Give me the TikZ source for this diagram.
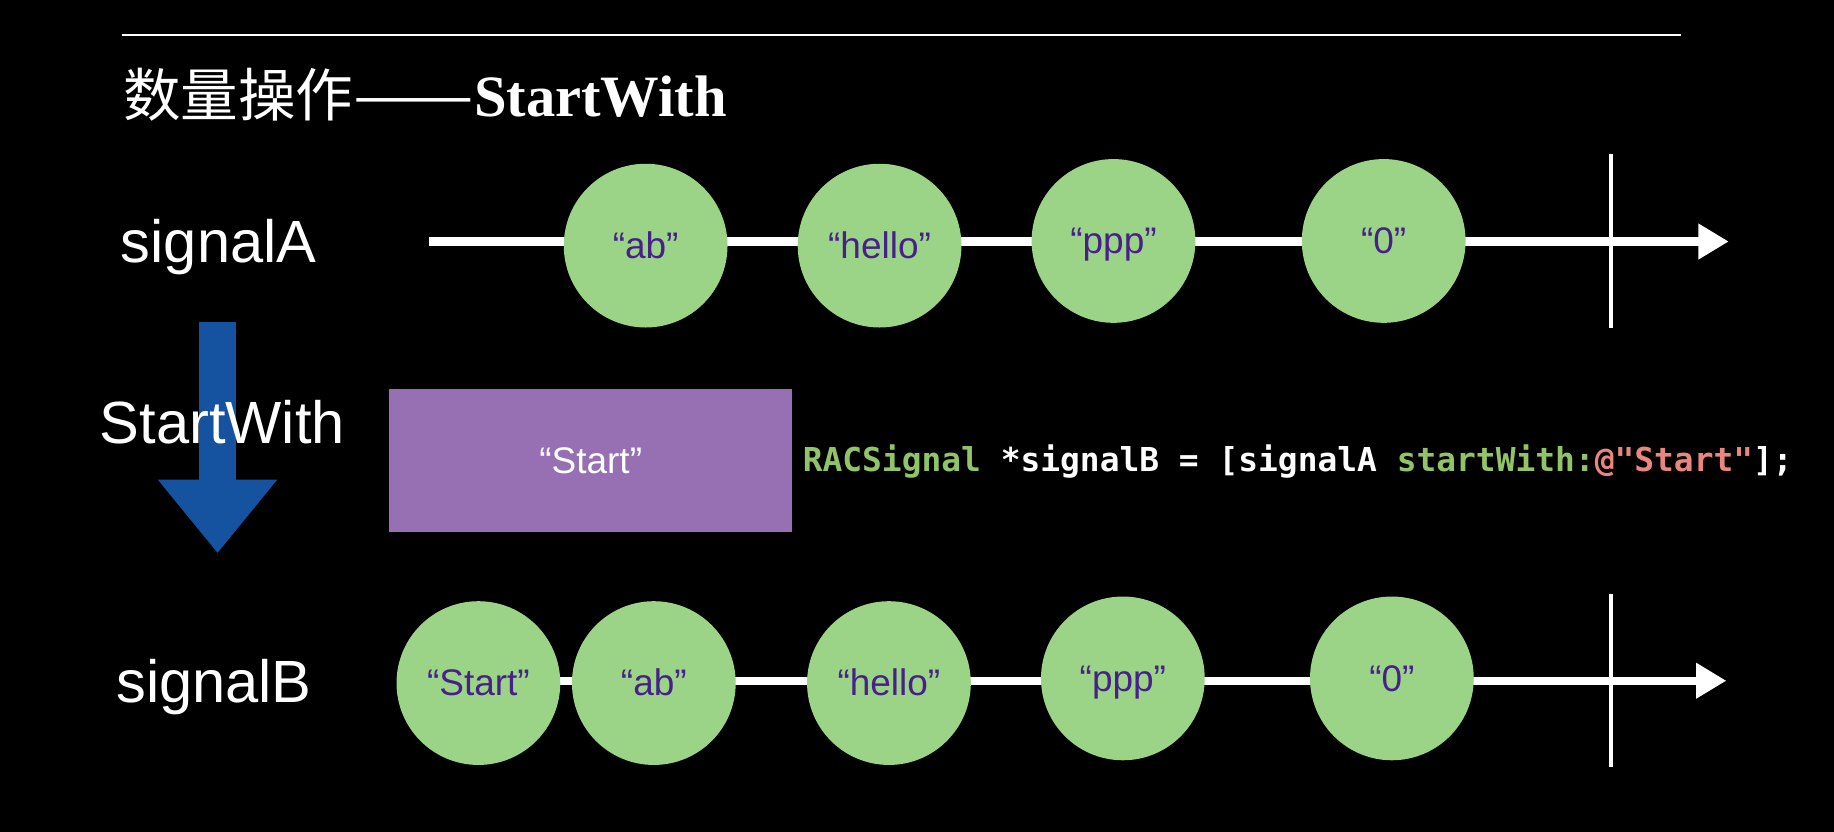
\documentclass[tikz,border=0pt]{standalone}
\usepackage{fontspec}
\usepackage{graphicx}
\usetikzlibrary{arrows.meta}
\newfontfamily\cjkfont{Noto Sans CJK SC}
\newfontfamily\titlefont{Liberation Serif}
\newfontfamily\labelfont{Liberation Sans}
\newfontfamily\codefont{DejaVu Sans Mono}
\definecolor{marblegreen}{RGB}{155,212,134}
\definecolor{marbletext}{RGB}{72,32,140}
\definecolor{startpurple}{RGB}{150,112,178}
\definecolor{flowblue}{RGB}{21,83,161}
\definecolor{codegreen}{RGB}{145,196,104}
\definecolor{codepink}{RGB}{234,134,128}
\tikzset{
  marble/.style={circle, fill=marblegreen, minimum size=28mm, inner sep=0pt,
    text=marbletext, font=\labelfont\fontsize{18}{18}\selectfont,
    text height=12.5pt, text depth=0pt},
  streamlabel/.style={anchor=base west, text=white, inner sep=0pt,
    font=\labelfont\fontsize{29}{29}\selectfont},
  timeline/.style={white, line width=1.4mm, -{Triangle[length=5.2mm,width=5.8mm]}},
  endtick/.style={white, line width=0.7mm}
}

\begin{document}
\begin{tikzpicture}[x=0.2mm, y=-0.2mm]
                % Draw the black page
                \fill[black] (0,0) rectangle (1568,711);
                \useasboundingbox (0,0) rectangle (1568,711);
                % Draw the title with its rule
                \coordinate (ruleL) at (104,30);
                \coordinate (ruleR) at (1437,30);
                \draw[white, line width=0.4mm] (ruleL) -- (ruleR);
                \node[anchor=base west, inner sep=0pt, text=white, font=\fontsize{28}{28}\selectfont]
                  (title) at (105,100) {{\cjkfont 数量操作\scalebox{1.25}[1]{——}}{\titlefont\bfseries\fontsize{28.5}{28.5}\selectfont StartWith}};
                % Draw signalA
                \node[streamlabel] (labelA) at (103,224) {signalA};
                \coordinate (startA) at (367,206.5);
                \coordinate (endA) at (1478,206.5);
                \draw[timeline] (startA) -- (endA);
                \coordinate (tickAtop) at (1377,132);
                \coordinate (tickAbot) at (1377,280);
                \draw[endtick] (tickAtop) -- (tickAbot);
                \foreach \x/\y/\txt [count=\i] in {552/210/“ab”, 752/210/“hello”, 952/206/“ppp”, 1183/206/“0”}{
                    \node[marble] (a\i) at (\x,\y) {\txt};
                }
                % Draw the operator
                \coordinate (flowtop) at (186,275);
                \coordinate (flowtip) at (186,473);
                \draw[flowblue, line width=6.4mm, -{Triangle[length=12.6mm,width=19.6mm]}] (flowtop) -- (flowtip);
                \node[streamlabel] (labelOp) at (85,379) {StartWith};
                \node[fill=startpurple, minimum width=68.8mm, minimum height=24.4mm, inner sep=0pt,
                  text=white, font=\labelfont\fontsize{18}{18}\selectfont, text height=12.5pt, text depth=0pt]
                  (startbox) at (505,394) {“Start”};
                \node[anchor=base west, inner sep=0pt, text=white, font=\codefont\bfseries\fontsize{16}{16}\selectfont]
                  (code) at (686,403) {\textcolor{codegreen}{RACSignal} *signalB = [signalA \textcolor{codegreen}{startWith:}\textcolor{codepink}{@"Start"}];};
                % Draw signalB
                \node[streamlabel] (labelB) at (99,601) {signalB};
                \coordinate (startB) at (409,582);
                \coordinate (endB) at (1476,582);
                \draw[timeline] (startB) -- (endB);
                \coordinate (tickBtop) at (1377,508);
                \coordinate (tickBbot) at (1377,656);
                \draw[endtick] (tickBtop) -- (tickBbot);
                \foreach \x/\y/\txt [count=\i] in {409/584/“Start”, 559/584/“ab”, 760/584/“hello”, 960/580/“ppp”, 1190/580/“0”}{
                    \node[marble] (b\i) at (\x,\y) {\txt};
                }
            \end{tikzpicture}
\end{document}
